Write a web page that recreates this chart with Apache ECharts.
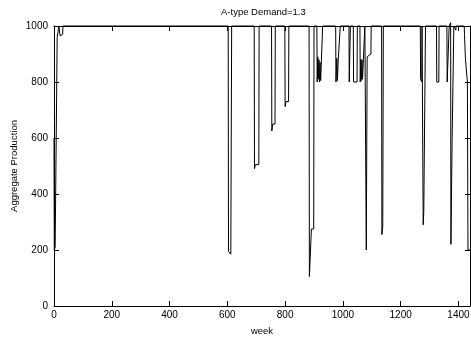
<!DOCTYPE html>
<html>
<head>
<meta charset="utf-8">
<script src="https://cdn.jsdelivr.net/npm/echarts@6/dist/echarts.min.js"></script>
<style>
  html, body { margin: 0; padding: 0; background: #fff; }
  #chart { width: 471px; height: 337px; }
</style>
</head>
<body>
<div id="chart"></div>
<script>
// week index and aggregate production (only the break points, the rest sits at 1000)
const weeks = [
  0, 1, 4, 7, 10, 11, 16, 17, 20, 21, 30, 31,
  603, 604, 612, 614, 615,
  693, 694, 697, 709, 710,
  753, 754, 757, 765, 766,
  799, 800, 803, 812, 813,
  883, 884, 891, 899, 900,
  910, 911, 913, 915, 917, 919, 921, 923, 929, 930,
  975, 976, 979, 981, 984, 990, 991,
  1021, 1022, 1025, 1026,
  1036, 1037, 1049, 1050,
  1059, 1060, 1062, 1064, 1066, 1068, 1071, 1075, 1076,
  1080, 1081, 1084, 1097, 1098,
  1134, 1135, 1138, 1140,
  1268, 1269, 1273, 1274,
  1277, 1278, 1280, 1285, 1286,
  1324, 1325, 1332, 1333,
  1360, 1361, 1367, 1368,
  1372, 1373, 1374, 1378, 1381, 1384,
  1390, 1391, 1392,
  1420, 1421, 1424, 1431, 1433, 1440
];
const production = [
  600, 200, 210, 205, 215, 960, 965, 1000, 995, 965, 970, 1000,
  1000, 195, 185, 178, 1000,
  1000, 490, 505, 505, 1000,
  1000, 625, 650, 650, 1000,
  1000, 712, 730, 730, 1000,
  1000, 105, 275, 275, 1000,
  1000, 800, 890, 810, 880, 800, 870, 805, 800, 1000,
  1000, 800, 885, 805, 880, 885, 1000,
  1000, 800, 800, 1000,
  1000, 800, 800, 1000,
  1000, 800, 880, 805, 880, 810, 880, 885, 1000,
  1000, 200, 890, 900, 1000,
  1000, 255, 285, 1000,
  1000, 810, 800, 1000,
  1000, 290, 335, 340, 1000,
  1000, 800, 800, 1000,
  1000, 800, 800, 1000,
  1000, 1012, 220, 590, 790, 1000,
  1000, 985, 1000,
  1000, 970, 885, 800, 200, 200
];
const xTicks = [0, 200, 400, 600, 800, 1000, 1200, 1400];
const yTicks = [0, 200, 400, 600, 800, 1000];

const seriesData = weeks.map((w, i) => [w, production[i]]);

const font = 'Liberation Sans, Arial, Helvetica, sans-serif';
const black = '#000';

const chart = echarts.init(document.getElementById('chart'));

function xAxisCfg(pos, withLabels) {
  return {
    type: 'value',
    position: pos,
    min: 0,
    max: 1440,
    interval: 200,
    axisLine: { show: true, onZero: false, lineStyle: { color: black, width: 1 } },
    axisTick: { show: true, inside: true, length: 5, lineStyle: { color: black, width: 1 } },
    axisLabel: {
      show: withLabels,
      color: black,
      fontSize: 10,
      fontFamily: font,
      margin: 4,
      showMaxLabel: false,
      formatter: v => (xTicks.indexOf(v) >= 0 ? String(v) : '')
    },
    splitLine: { show: false }
  };
}

function yAxisCfg(pos, withLabels) {
  return {
    type: 'value',
    position: pos,
    min: 0,
    max: 1000,
    interval: 200,
    axisLine: { show: true, onZero: false, lineStyle: { color: black, width: 1 } },
    axisTick: { show: true, inside: true, length: 5, lineStyle: { color: black, width: 1 } },
    axisLabel: {
      show: withLabels,
      color: black,
      fontSize: 10,
      fontFamily: font,
      margin: 6,
      formatter: v => (yTicks.indexOf(v) >= 0 ? String(v) : '')
    },
    splitLine: { show: false }
  };
}

const xBottom = xAxisCfg('bottom', true);
xBottom.name = 'week';
xBottom.nameLocation = 'middle';
xBottom.nameGap = 20;
xBottom.nameTextStyle = { color: black, fontSize: 9.5, fontFamily: font };

const yLeft = yAxisCfg('left', true);
yLeft.name = 'Aggregate Production';
yLeft.nameLocation = 'middle';
yLeft.nameRotate = 90;
yLeft.nameGap = 35;
yLeft.nameMoveOverlap = false;
yLeft.nameTextStyle = { color: black, fontSize: 9.5, fontFamily: font };

chart.setOption({
  backgroundColor: '#fff',
  animation: false,
  title: {
    text: 'A-type Demand=1.3',
    left: 221,
    top: 7,
    padding: 0,
    textStyle: { color: black, fontSize: 9.5, fontWeight: 'normal', fontFamily: font }
  },
  grid: { left: 54, right: 1, top: 26, bottom: 31, outerBoundsMode: 'none' },
  xAxis: [xBottom, xAxisCfg('top', false)],
  yAxis: [yLeft, yAxisCfg('right', false)],
  series: [
    {
      type: 'line',
      xAxisIndex: 0,
      yAxisIndex: 0,
      data: seriesData,
      symbol: 'none',
      clip: false,
      lineStyle: { color: black, width: 1 }
    }
  ]
});
</script>
</body>
</html>
